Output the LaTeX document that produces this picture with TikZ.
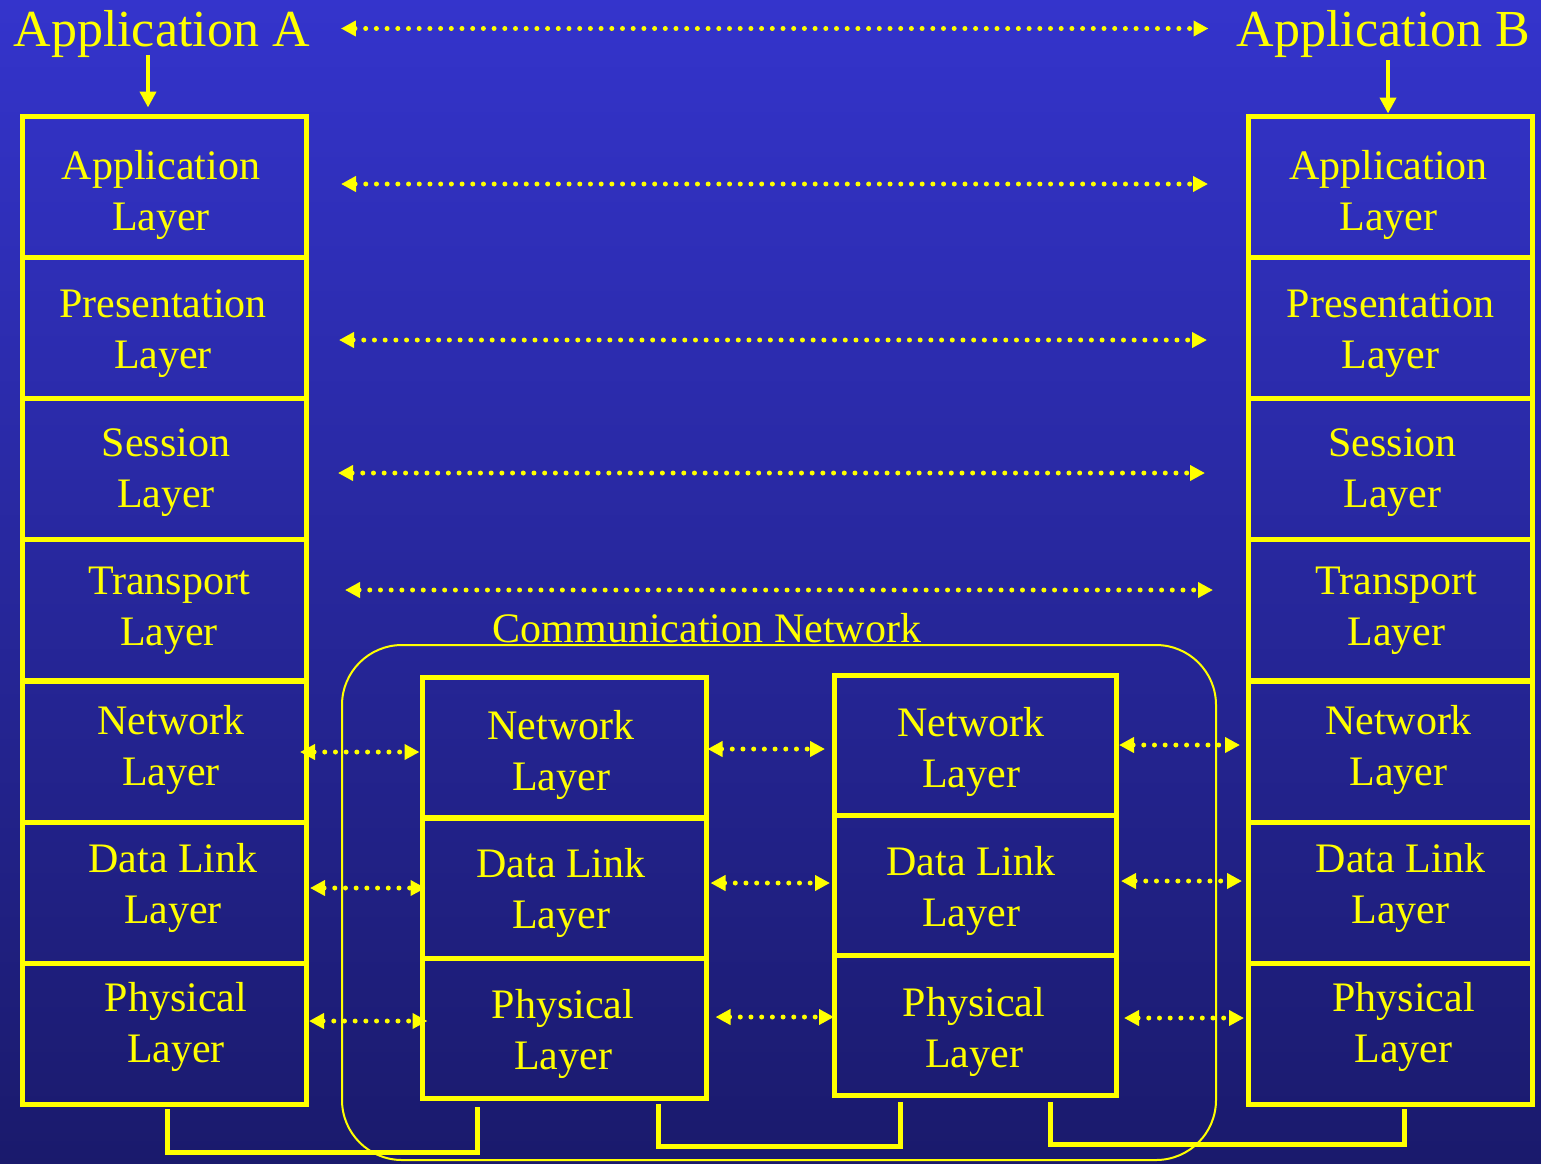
\documentclass[tikz,border=0pt]{standalone}
\usepackage{fontspec}
\setmainfont{Liberation Serif}
\usetikzlibrary{arrows.meta,calc}
\definecolor{bgtop}{HTML}{3434CC}
\definecolor{bgbot}{HTML}{1A1A6C}
\definecolor{yel}{HTML}{FFFF00}
\begin{document}
\begin{tikzpicture}[x=0.5pt,y=-0.5pt,
  layerbox/.style={draw=yel, line width=2.5pt, minimum width=142pt, minimum height=70.5pt, inner sep=0pt},
  layertext/.style={text=yel, font=\fontsize{21}{25.5}\selectfont, align=center, inner sep=0pt},
  header/.style={text=yel, font=\fontsize{26}{30}\selectfont, inner sep=2pt, anchor=base},
  dotarrow/.style={yel, line width=2.5pt, line cap=round, dash pattern=on 0pt off 5.35pt,
    {Triangle[length=7.5pt,width=7.5pt]}-{Triangle[length=7.5pt,width=7.5pt]}},
  downarrow/.style={yel, line width=2pt, -{Triangle[length=8pt,width=8pt]}},
  bracket/.style={yel, line width=2.5pt},
  netbox/.style={draw=yel, line width=1pt, rounded corners=30pt, minimum width=437pt, minimum height=257.5pt, inner sep=0pt}
]
% background
\shade[top color=bgtop, bottom color=bgbot] (0pt,0pt) rectangle (770.5pt,-581.5pt);
\useasboundingbox (0pt,0pt) rectangle (770.5pt,-581.5pt);

% network region
\node[netbox] (net) at (779,902.5) {};
\node[text=yel, font=\fontsize{21}{25.5}\selectfont, inner sep=0pt, anchor=base] (nettitle) at (707,642) {Communication Network};

% headers
\node[header] (hA) at (161.5,46) {Application A};
\node[header] (hB) at (1383.5,46) {Application B};

% left stack
\foreach \i/\yc/\dx/\dy/\t in {1/187/-3/8/{Application\\Layer}, 2/327.5/-1/6/{Presentation\\Layer}, 3/468.5/2/4/{Session\\Layer}, 4/610/5/1/{Transport\\Layer}, 5/751.5/7/-2/{Network\\Layer}, 6/892.5/9/-5/{Data Link\\Layer}, 7/1033.5/12/-7/{Physical\\Layer}} {
  \node[layerbox] (la\i) at (164,\yc) {};
  \node[layertext] (lt\i) at ($(la\i.center)+(\dx,\dy)$) {\t};
}
% right stack
\foreach \i/\yc/\dx/\dy/\t in {1/187/-2/8/{Application\\Layer}, 2/327.5/0/6/{Presentation\\Layer}, 3/468.5/2/4/{Session\\Layer}, 4/610/6/1/{Transport\\Layer}, 5/751.5/8/-2/{Network\\Layer}, 6/892.5/10/-5/{Data Link\\Layer}, 7/1033.5/13/-7/{Physical\\Layer}} {
  \node[layerbox] (ra\i) at (1390.5,\yc) {};
  \node[layertext] (rt\i) at ($(ra\i.center)+(\dx,\dy)$) {\t};
}
% middle stacks
\foreach \i/\yc/\dx/\dy/\t in {1/747.5/-3.5/7/{Network\\Layer}, 2/888/-3.5/5/{Data Link\\Layer}, 3/1028/-1.5/6/{Physical\\Layer}} {
  \node[layerbox, minimum height=70pt] (ma\i) at (564.5,\yc) {};
  \node[layertext] (mat\i) at ($(ma\i.center)+(\dx,\dy)$) {\t};
}
\foreach \i/\yc/\dx/\dy/\t in {1/745/-4/6.5/{Network\\Layer}, 2/885/-4/5.5/{Data Link\\Layer}, 3/1025/-1/6.5/{Physical\\Layer}} {
  \node[layerbox, minimum width=141pt, minimum height=70pt] (mb\i) at (975,\yc) {};
  \node[layertext] (mbt\i) at ($(mb\i.center)+(\dx,\dy)$) {\t};
}

% down arrows
\coordinate (tA) at ($(la1.north)+(-16,0)$);
\coordinate (tB) at ($(ra1.north)+(-2.5,0)$);
\draw[downarrow, shorten <=-3.15pt, shorten >=3.25pt] (hA.south -| tA) -- (tA);
\draw[downarrow, shorten <=-0.65pt, shorten >=0.25pt] (hB.south -| tB) -- (tB);

% peer-to-peer long arrows
\draw[dotarrow, shorten <=13.5pt, shorten >=12pt] ([yshift=2.5pt]hA.east) -- ([yshift=2.5pt]hB.west);
\draw[dotarrow, shorten <=16.25pt, shorten >=19pt] ([yshift=1.5pt]la1.east) -- ([yshift=1.5pt]ra1.west);
\draw[dotarrow, shorten <=15.25pt, shorten >=19.5pt] ([yshift=-6.25pt]la2.east) -- ([yshift=-6.25pt]ra2.west);
\draw[dotarrow, shorten <=14.75pt, shorten >=20.5pt] ([yshift=-2.25pt]la3.east) -- ([yshift=-2.25pt]ra3.west);
\draw[dotarrow, shorten <=18.25pt, shorten >=16.5pt] ([yshift=10pt]la4.east) -- ([yshift=10pt]ra4.west);

% network layer hops
\draw[dotarrow, shorten <=-4.25pt, shorten >=0.25pt] ([yshift=-0.25pt]la5.east) -- ([yshift=-2.25pt]ma1.west);
\draw[dotarrow, shorten <=-0.75pt, shorten >=3.25pt] ([yshift=-0.75pt]ma1.east) -- ([yshift=-2pt]mb1.west);
\draw[dotarrow, shorten <=0.25pt, shorten >=3pt] (mb1.east) -- ([yshift=3.25pt]ra5.west);
% data link hops
\draw[dotarrow, shorten <=0.75pt, shorten >=-2.75pt] ([yshift=2.25pt]la6.east) -- (ma2.west);
\draw[dotarrow, shorten <=0.75pt, shorten >=0.75pt] ([yshift=2.5pt]ma2.east) -- ([yshift=1pt]mb2.west);
\draw[dotarrow, shorten <=1.25pt, shorten >=2pt] ([yshift=2pt]mb2.east) -- ([yshift=5.75pt]ra6.west);
% physical hops
\draw[dotarrow, shorten <=0.25pt, shorten >=-3.75pt] ([yshift=6.25pt]la7.east) -- ([yshift=3.5pt]ma3.west);
\draw[dotarrow, shorten <=3.25pt, shorten >=-1.25pt] ([yshift=5.5pt]ma3.east) -- ([yshift=4pt]mb3.west);
\draw[dotarrow, shorten <=2.75pt, shorten >=1pt] ([yshift=3.5pt]mb3.east) -- ([yshift=7.75pt]ra7.west);

% physical links
\draw[bracket] ($(la7.south)+(3,2.5)$) -- ($(la7.south)+(3,45.5)$) -| ($(ma3.south)+(-87.5,6.5)$);
\draw[bracket] ($(ma3.south)+(93.5,3.5)$) -- ($(ma3.south)+(93.5,45.5)$) -| ($(mb3.south)+(-75,4.5)$);
\draw[bracket] ($(mb3.south)+(75,4.5)$) -- ($(mb3.south)+(75,46.5)$) -| ($(ra7.south)+(13.5,2.5)$);
\end{tikzpicture}
\end{document}
